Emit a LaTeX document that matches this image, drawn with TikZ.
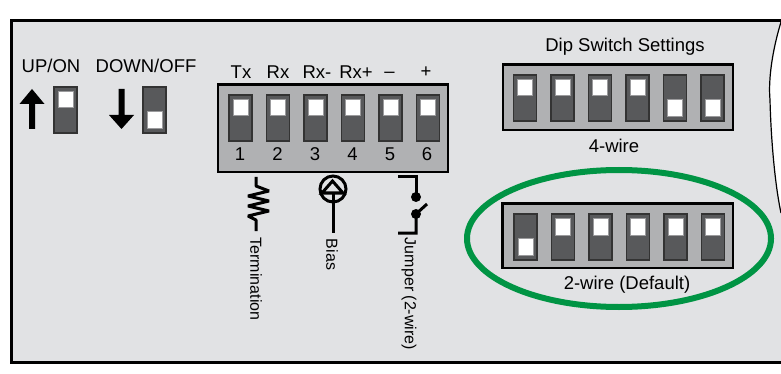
\documentclass[tikz,border=0pt]{standalone}
\usepackage{fontspec}
\setmainfont{Liberation Sans}
\definecolor{PanelClr}{HTML}{E1E2E4}
\definecolor{BoxClr}{HTML}{B0B1B3}
\definecolor{LeverClr}{HTML}{58595B}
\definecolor{RingClr}{HTML}{009444}
\tikzset{
  txt/.style={inner sep=0pt,font=\fontsize{18.5}{19}\selectfont},
  sidetxt/.style={inner sep=0pt,rotate=-90,font=\fontsize{16}{16}\selectfont},
  wire/.style={line width=3pt,color=black},
  dipbox/.style={draw=black,line width=2.6pt,fill=BoxClr},
  lever/.style={draw=black!80,line width=1.3pt,fill=LeverClr},
  knob/.style={draw=LeverClr!60,line width=1pt,fill=white},
  bigarrow/.style={fill=black,draw=none}
}
\newcommand{\DipUp}[2]{%
  \draw[lever] (#1,#2) rectangle ++(23,46);
  \draw[knob] (#1+4,#2+4.5) rectangle ++(15,16.5);
}
\newcommand{\DipDown}[2]{%
  \draw[lever] (#1,#2) rectangle ++(23,46);
  \draw[knob] (#1+4,#2+24.5) rectangle ++(15,17);
}
\begin{document}
\begin{tikzpicture}[x=1pt,y=-1pt]
\useasboundingbox (0,0) rectangle (781,374);

\fill[PanelClr] (11,21) rectangle (781,362);
\draw[line width=3pt] (781,21) -- (11,21) -- (11,362) -- (781,362);
\fill[white] (781,22) .. controls (773,48) and (768,78) .. (770,100)
  .. controls (771,140) and (775,185) .. (781,213) -- cycle;
\draw[line width=1.2pt] (781,22) .. controls (773,48) and (768,78) .. (770,100)
  .. controls (771,140) and (775,185) .. (781,213);

\node[txt] (upon) at (51,66) {UP/ON};
\node[txt] (downoff) at (146,66) {DOWN/OFF};
\fill[bigarrow] (29,129) -- (29,104) -- (19.5,104) -- (32,89) -- (44.5,104) -- (35,104) -- (35,129) -- cycle;
\fill[bigarrow] (118.5,89) -- (118.5,115) -- (109,115) -- (121.5,129) -- (134,115) -- (124.5,115) -- (124.5,89) -- cycle;
\DipUp{54}{87}
\DipDown{143}{87}

\draw[dipbox] (218,84.5) rectangle (448,172);
\DipUp{229}{95}
\DipUp{266.5}{95}
\DipUp{304}{95}
\DipUp{341.5}{95}
\DipUp{379}{95}
\DipUp{416.5}{95}
\node[txt] (tx) at (241,72) {Tx};
\node[txt] (rx) at (278,72) {Rx};
\node[txt] (rxm) at (317,72) {Rx-};
\node[txt] (rxp) at (356,72) {Rx+};
\node[txt] (minus) at (389.5,75) {--};
\node[txt] (plus) at (426,72) {+};
\node[txt] (one) at (240,154) {1};
\node[txt] (two) at (277.5,154) {2};
\node[txt] (three) at (315,154) {3};
\node[txt] (four) at (352.5,154) {4};
\node[txt] (five) at (390,154) {5};
\node[txt] (six) at (427,154) {6};

\draw[wire,line join=bevel] (256,177) -- (256,186) -- (269,191) -- (248,196) -- (269,201) -- (248,206) -- (269,211) -- (248,216) -- (256,220) -- (256,231);
\draw[wire] (333,189) circle (13);
\draw[wire] (322,193) -- (332.5,181) -- (343,193) -- cycle;
\draw[wire] (333,193) -- (333,233);
\draw[wire] (398,177) -- (416,177) -- (416,197);
\fill (416,197) circle (5);
\fill (416,214) circle (5);
\draw[wire] (427,204) -- (416,214) -- (416,233) -- (398,233);
\node[sidetxt] (termination) at (256,279) {Termination};
\node[sidetxt] (bias) at (332,254.5) {Bias};
\node[sidetxt] (jumper) at (409,294) {Jumper (2-wire)};

\node[txt] (settings) at (625,47) {Dip Switch Settings};
\draw[dipbox] (503,64.5) rectangle (733,130);
\DipUp{513.5}{75}
\DipUp{551}{75}
\DipUp{588.5}{75}
\DipUp{626}{75}
\DipDown{663.5}{75}
\DipDown{701}{75}
\node[txt] (fourwire) at (614,146) {4-wire};

\draw[dipbox] (502.5,203.5) rectangle (733,268);
\DipDown{514}{214}
\DipUp{551.5}{214}
\DipUp{589}{214}
\DipUp{626.5}{214}
\DipUp{664}{214}
\DipUp{701.5}{214}
\node[txt] (twowire) at (627,285) {2-wire (Default)};
\draw[RingClr,line width=6pt] (619,238.5) ellipse (152 and 68.5);

\end{tikzpicture}
\end{document}
